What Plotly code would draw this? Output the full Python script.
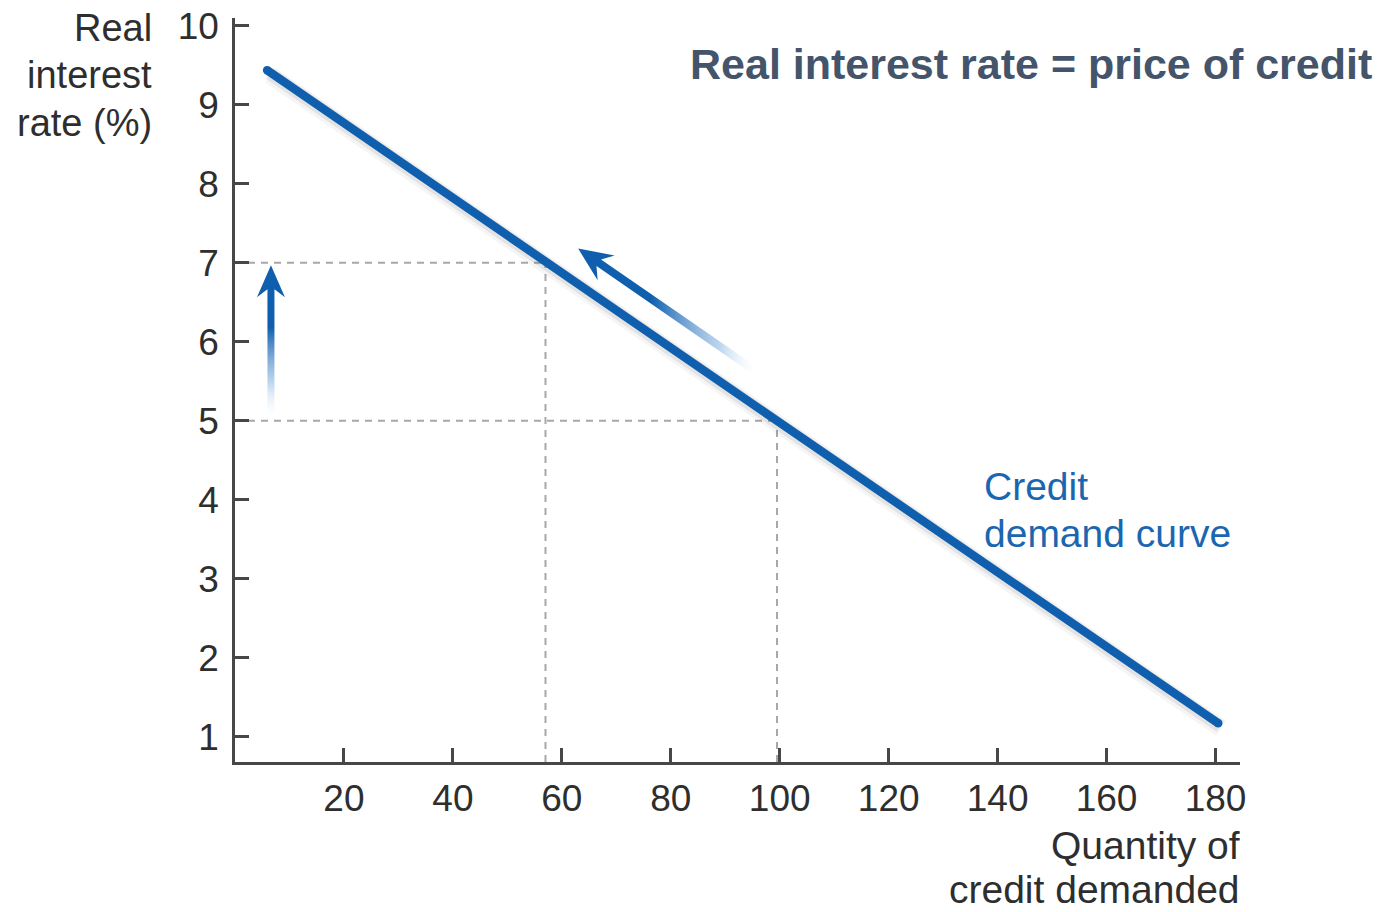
import numpy as np
import plotly.graph_objects as go

# ---- data ----
demand_q = [5.9, 57, 99.5, 180.5]        # quantity of credit demanded
demand_r = [9.44, 7.0, 5.0, 1.17]        # real interest rate (%)

rate_levels = [7.0, 5.0]                 # dashed reference rates
qty_levels = [57, 99.5]                  # matching quantities

x_ticks = [20, 40, 60, 80, 100, 120, 140, 160, 180]
y_ticks = [1, 2, 3, 4, 5, 6, 7, 8, 9, 10]

# arrows: (tail, tip) in data units
up_arrow = ((6.6, 5.0), (6.6, 6.97))
along_arrow = ((95.8, 5.62), (63.0, 7.18))

# ---- layout geometry ----
W, H = 1386, 912
ML, MR, MT, MB = 235, 146, 18, 150
XR = [0, 184.5]
YR = [0.68, 10.1]
PW, PH = W - ML - MR, H - MT - MB
XS = PW / (XR[1] - XR[0])   # px per x unit
YS = PH / (YR[1] - YR[0])   # px per y unit

BLUE = "#0f5fae"
AXIS = "#474747"
TEXT = "#2e2e2e"
FONT = "Liberation Sans, Arial, Helvetica, sans-serif"


def px_to_paper_x(px):
    return (px - ML) / PW


def px_to_paper_y(py):
    return (H - MB - py) / PH


def arrow_polygon(tail, tip, head_len=32, notch=24, head_w=28, shaft_w=7):
    """Closed outline of an arrow, built in pixel space and returned in data units."""
    t = np.array([tail[0] * XS, tail[1] * YS])
    p = np.array([tip[0] * XS, tip[1] * YS])
    u = (p - t) / np.linalg.norm(p - t)
    n = np.array([-u[1], u[0]])
    hw, sw = head_w / 2, shaft_w / 2
    pts = [
        p,
        p - u * head_len + n * hw,
        p - u * notch + n * sw,
        t + n * sw,
        t - n * sw,
        p - u * notch - n * sw,
        p - u * head_len - n * hw,
        p,
    ]
    xs = [q[0] / XS for q in pts]
    ys = [q[1] / YS for q in pts]
    return xs, ys


fig = go.Figure()

# dashed guides
gx, gy = [], []
for q, r in zip(qty_levels, rate_levels):
    gx += [XR[0], q, None, q, q, None]
    gy += [r, r, None, YR[0], r, None]
fig.add_trace(go.Scatter(
    x=gx, y=gy, mode="lines", hoverinfo="skip", showlegend=False,
    line=dict(color="#a8a8a8", width=2, dash="7px,6px"),
))

# soft shadow under the demand curve
for w, a, ox, oy in [(18, 0.04, 3, 5), (13, 0.07, 2, 3)]:
    fig.add_trace(go.Scatter(
        x=[q + ox / XS for q in demand_q],
        y=[r - oy / YS for r in demand_r],
        mode="lines", hoverinfo="skip", showlegend=False,
        line=dict(color=f"rgba(0,0,0,{a})", width=w),
    ))

# demand curve
fig.add_trace(go.Scatter(
    x=demand_q, y=demand_r, mode="lines", showlegend=False,
    line=dict(color=BLUE, width=8.5),
))
fig.add_trace(go.Scatter(
    x=[demand_q[0], demand_q[-1]], y=[demand_r[0], demand_r[-1]],
    mode="markers", hoverinfo="skip", showlegend=False,
    marker=dict(color=BLUE, size=8.5, line=dict(width=0)),
))

# vertical arrow, fading toward its tail
ax, ay = arrow_polygon(*up_arrow)
fig.add_trace(go.Scatter(
    x=ax, y=ay, mode="lines", fill="toself", hoverinfo="skip", showlegend=False,
    line=dict(width=0, color="rgba(0,0,0,0)"),
    fillgradient=dict(
        type="vertical",
        colorscale=[[0, "rgba(255,255,255,0)"], [0.25, "rgba(120,170,220,0.5)"],
                    [0.6, BLUE], [1, BLUE]],
    ),
))

# arrow along the curve, fading toward its tail
bx, by = arrow_polygon(*along_arrow, head_len=34, notch=25, head_w=30, shaft_w=8)
fig.add_trace(go.Scatter(
    x=bx, y=by, mode="lines", fill="toself", hoverinfo="skip", showlegend=False,
    line=dict(width=0, color="rgba(0,0,0,0)"),
    fillgradient=dict(
        type="horizontal",
        colorscale=[[0, BLUE], [0.4, BLUE], [0.78, "rgba(120,170,220,0.5)"],
                    [1, "rgba(255,255,255,0)"]],
    ),
))

axis_common = dict(
    showline=True, linecolor=AXIS, linewidth=2.5,
    showgrid=False, zeroline=False, automargin=False,
    ticks="inside", ticklen=14, tickwidth=2.5, tickcolor=AXIS,
    tickfont=dict(family=FONT, size=37, color=TEXT),
    fixedrange=True,
)

fig.update_xaxes(range=XR, tickvals=x_ticks, ticklabelstandoff=2, **axis_common)
fig.update_yaxes(range=YR, tickvals=y_ticks, ticklabelstandoff=6, **axis_common)

# text blocks: (lines, anchor x px, line centre y px, x anchor, colour, size)
y_title = (["Real", "interest", "rate (%)"], 153, [28, 75, 123], "right", TEXT, 38)
x_title = (["Quantity of", "credit demanded"], 1241, [846, 889], "right", TEXT, 39)
curve_label = (["Credit", "demand curve"], 983, [486, 533], "left", "#1a66b0", 39)

annotations = []
for lines, xp, ys_px, anchor, color, size in (y_title, x_title, curve_label):
    for line, yp in zip(lines, ys_px):
        annotations.append(dict(
            text=line, x=px_to_paper_x(xp), y=px_to_paper_y(yp),
            xanchor=anchor, yanchor="middle", align=anchor, borderpad=0,
            font=dict(family=FONT, size=size, color=color),
        ))

annotations.append(dict(
    text="<b>Real interest rate = price of credit</b>",
    x=px_to_paper_x(1374), y=px_to_paper_y(64),
    xanchor="right", yanchor="middle", align="right",
    font=dict(family=FONT, size=43, color="#44546a"),
))
for a in annotations:
    a.update(xref="paper", yref="paper", showarrow=False)

fig.update_layout(
    width=W, height=H,
    margin=dict(l=ML, r=MR, t=MT, b=MB, autoexpand=False),
    paper_bgcolor="white", plot_bgcolor="white",
    annotations=annotations,
    showlegend=False,
)

fig.write_html("out.html", config={"displayModeBar": False})
